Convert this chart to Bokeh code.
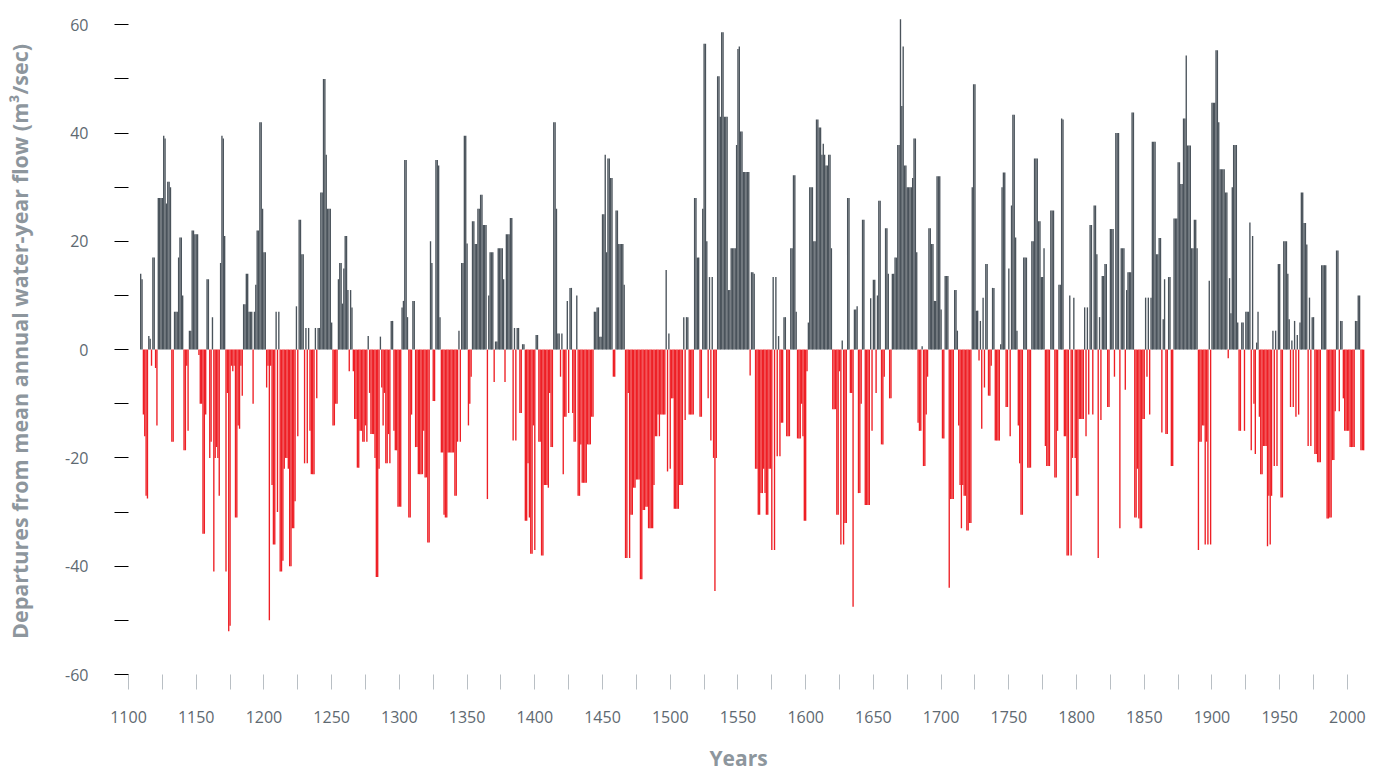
from bokeh.plotting import figure
from bokeh.models import FixedTicker, Range1d, ColumnDataSource, Title
from bokeh.embed import file_html
from bokeh.resources import INLINE

# Departures from mean annual water-year flow (m3/sec), one value per year
flow_1100s = [14,  # 1109
    13, -12, -16, -27, -27.5, 2.5, 2, -3, 17, 17,
    -3.4, -14, 28, 28, 28, 28, 39.5, 39, 27, 31,
    31, 30, -17, -17, 7, 7, 7, 17, 20.7, 20.7,
    10, -18.6, -18.6, -3, -15, 3.5, 3.5, 22, 22, 21.3,
    21.3, 21.3, -1, -10, -10, -34, -34, -12, 13, 13,
    -20, -17, 6, -41, -20, -18, -20, -27, 16, 39.5,
    39, 21, -41, -8, -52, -51, -3, -4, -3, -31,
    -31, -14, -14.6, -3, -8.5, 8.4, 8.4, 14, 14, 7,
    7, 7, -10, 7, 12, 22, 22, 42, 42, 26]
flow_1200s = [
    18, 18, -7, -3, -50, -3, -25, -36, -36, 7,
    -30, 7, -41, -41, -39, -22, -20, -20, -22, -40,
    -40, -33, -33, -28, 8, -16, 24, 24, 17.6, 17.6,
    -21, 4, -21, 4, -15, -23, -23, -23, 4, -9,
    4, 4, 29, 29, 50, 50, 36, 26, 26, 26,
    5, -14, -14, -10, -10, 13, 16, 16, 8.5, 15,
    21, 21, 11, -4, 11, 7.8, -4, -12.8, -12.8, -21.8,
    -21.8, -15, -15, -17, -17, -14, -17, 2.5, -8, -15.6,
    -15.6, -15.6, -20, -42, -42, -22, 2.4, -7, -14, -8,
    -21, -21, -15.6, -21, 5.3, 5.3, -15, -18.6, -18.6, -29]
flow_1300s = [
    -29, -29, 7.8, 9, 35, 35, 6, -31, -31, -12,
    9, 9, -18, -18, -23, -23, -23, -23, -15, -23.6,
    -23.6, -35.6, -35.6, 20, 16, -9.5, -9.5, 35, 35, 34,
    6, -19, -19, -30.5, -31, -31, -19, -19, -19, -19,
    -19, -27, -27, -17, 3.5, -17, 16, 16, 39.5, 39.5,
    19.6, -14, -10, -5, 23.7, 23.7, 19.5, 19.5, 26, 26,
    28.6, 28.6, 23, 23, 23, -27.6, 10, 18, 18, 18,
    -6, 1.5, 1.5, 18.7, 18.7, 18.7, 18.7, 13, -6, 21.3,
    21.3, 21.3, 24.3, 24.3, -16.8, 4, -16.8, 4, 4, -11.7,
    -11.7, 1, 1, -31.6, -31.6, -21, -31, -37.7, -37.7, -14]
flow_1400s = [
    -37, 2.7, 2.7, -17, -17, -38, -38, -25, -25, -25,
    -25.5, -8, -18, -18, 42, 42, 26, 3, 3, -5,
    3, -23, -12.4, -12.4, 9, -11.7, 11.4, 11.4, -11.7, -17,
    -17, 10, -27, -27, -17.5, -24.6, -24.6, -24.6, -24.6, -17.5,
    -17.5, -17.5, -12.4, -12.4, 7, 7, 7.8, 7.8, 2.4, 2.4,
    25, 25, 36, 18, 35.3, 35.3, 31.7, 31.7, -5, -5,
    25.7, 25.7, 19.5, 19.5, 19.5, 19.5, 12, -38.5, -38.5, -8,
    -38.5, -30.5, -30.5, -25.5, -25.5, -24, -24, -24, -42.4, -42.4,
    -29.6, -29.6, -29, -29, -33, -33, -33, -33, -25, -16,
    -16, -12, -16, -12, -12, -12, -12, 14.7, -22.5, 3]
flow_1500s = [
    -22, -9, -9, -29.4, -29.4, -29.4, -29.4, -25, -25, -25,
    6, -13, 6, 6, -12, -12, -12, -12, 28, 28,
    17, 17, -12.4, -12.4, 26, 56.5, 56.5, 20, -9, 13.4,
    -16.8, 13.4, -20, -44.6, -20, 50.5, 50.5, 43, 58.6, 58.6,
    43, 43, 43, 11, 11, 18.7, 18.7, 18.7, 18.7, 37.8,
    55.5, 56, 40.3, 40.3, 32.8, 32.8, 32.8, 32.8, 32.8, -4.8,
    14.3, 14.3, 14, -22, -22, -30.5, -30.5, -26.5, -26.5, -22,
    -26.5, -30.5, -30.5, -22, -22, -37, 13.4, -37, 13.4, -19.7,
    2.5, -19.7, -13.5, -13.5, 6, 6, -16, -16, -16, 18.7,
    18.7, 32.2, 32.2, 7, -16.4, -16.4, -16.4, -10, -16, -31.6]
flow_1600s = [
    -31.6, -4, 5, 30, 30, 30, 20, 20, 42.5, 42.5,
    41, 41, 36, 38, 36, 34, 34, 36, 36, 18.7,
    -11, -11, -11, -30.5, -30.5, -4, -36, 1.7, -36, -32,
    -32, 28, 28, -8, -8, -47.5, 7.4, 7.4, 8, -26.5,
    -26.5, -10, 24, 24, -28.7, -28.7, -28.7, -28.7, 9.5, -15,
    12.9, 12.9, -8, 10, 27.5, 27.5, -17.5, -17.5, -5, 22.4,
    22.4, 14, -9, -9, 14, 14, 17, 17, 37.8, 37.8,
    61, 45, 56, 34, 34, 30, 30, 30, 30, 31.7,
    39, 39, 18, -13.5, -15, -15, 0.6, -21.5, -21.5, -12,
    -5, 22.4, 22.4, 19.5, 19.5, 9, 9, 32, 32, 32]
flow_1700s = [
    7.4, -16.4, -16.4, 13.6, 13.6, 13.6, -44, -27.6, -27.6, -27.6,
    11, 11, 3.5, -14, -25, -33, -25, -27, -27, -33.4,
    -33.4, -32, -32, 30, 49, 49, 7.2, 7.2, -2, 5.3,
    -14.6, 9.6, -7, 15.8, 15.8, -8.5, -8.5, -3, 11.4, 11.4,
    -16.8, -16.8, -16.8, -16.8, 1, 30, 32.7, 32.7, -10.6, -10.6,
    15, -16, 26.6, 43.4, 43.4, 20.7, 3.5, -14, -21, -30.5,
    -30.5, 17, 17, 17, -21.8, -21.8, -21.8, 20, 20, 35.3,
    35.3, 35.3, 23.7, 23.7, 13.4, 13.4, 18.7, -17.8, -21.5, -21.5,
    -21.5, 25.7, 25.7, 25.7, -23.6, -23.6, -15, 12, 12, 42.7,
    42.5, -16, -16, -38, -38, 10, -38, -20, 9.6, -20]
flow_1800s = [
    -27, -27, -12.8, -12.8, -12.8, -12.8, 7.8, -16, 7.8, -12,
    23, 23, -12, 26.6, 26.6, 17.6, -38.5, 6, -13, 13.6,
    13.6, 15.8, 15.8, -10.6, -10.6, 22.3, 22.3, 22.3, -5, 40,
    40, 40, -33, 18.7, 18.7, 18.7, -7.4, 11, 14.3, 14.3,
    14.3, 43.8, 43.8, -31, -31, -22, -31.2, -33, -33, -12.8,
    -12.8, 9.6, -5, 9.6, -12, 9.6, 38.4, 38.4, 38.4, 17.6,
    17.6, 20.6, 20.6, -15.3, 5.6, 13, -15.6, -15.6, 13.4, 13.4,
    -21.5, -21.5, 24.2, 24.2, 24.2, 34.6, 34.6, 30.6, 30.6, 42.7,
    42.7, 54.3, 37.7, 37.7, 37.7, 18.7, 18.7, 24, 24, 18.7,
    -37, -17, -17, -14, -14, -36, -17, -36, 12.7, -36]
flow_1900s = [
    45.6, 45.6, 45.6, 55.3, 55.3, 42, 33.3, 33.3, 33.3, 33.3,
    29, 29, -1.6, 13.2, 6.7, 30, 37.8, 37.8, 37.8, 5,
    -15, -15, 5, 5, -15, 7, 7, 7, 23.5, -18.6,
    21, -10, -19.3, 1.3, 7, -12.4, -23, -23, -17.8, -17.8,
    -17.8, -36.3, -27, -36, -27, 3.5, -21.5, 3.5, -21.5, 15.8,
    15.8, -27.3, -27.3, 20, 20, 20, 14, 5.6, -10.6, 1.7,
    -10.6, 5.3, -12.4, 2.7, -12, 5, 29, 29, 23.4, 23.4,
    19.4, -17.8, 9.6, -17.8, 6, 6, -19.3, -19.3, -20.8, -20.8,
    -20.8, 15.6, 15.6, 15.6, 15.6, -31.2, -31.2, -31, -31, -20.4,
    -20.4, -11.4, 18.3, 18.3, -11.4, 5.3, 5.3, -9, -15, -15]
flow_2000s = [-15, -15, -18, -18, -18, -18, 5.3, 5.3, 10, 10, -18.6, -18.6, -18.6]

segment_starts = [1109, 1200, 1300, 1400, 1500, 1600, 1700, 1800, 1900, 2000]
segments = [flow_1100s, flow_1200s, flow_1300s, flow_1400s, flow_1500s,
            flow_1600s, flow_1700s, flow_1800s, flow_1900s, flow_2000s]

y_ticks = [-60, -40, -20, 0, 20, 40, 60]
y_minor = [-50, -30, -10, 10, 30, 50]
x_ticks = list(range(1100, 2001, 50))
x_minor = list(range(1125, 2000, 50))

x_title = "Years"
y_title = "Departures from mean annual water-year flow (m\u00b3/sec)"

POS = "#4a535b"
NEG = "#ee1f25"

years, vals, cols = [], [], []
for start, seg in zip(segment_starts, segments):
    for i, v in enumerate(seg):
        years.append(start + i)
        vals.append(v)
        cols.append(POS if v >= 0 else NEG)

src = ColumnDataSource(dict(year=years, value=vals, color=cols))

X0, X1 = 1100, 2020
Y0, Y1 = -60, 63
p = figure(frame_width=1246, frame_height=666,
           x_range=Range1d(X0, X1), y_range=Range1d(Y0, Y1),
           output_backend="svg", toolbar_location=None,
           min_border_left=128, min_border_top=8, min_border_right=0, min_border_bottom=99)
p.vbar(x="year", top="value", bottom=0, width=1.0, source=src,
       fill_color="color", line_color=None)

p.xgrid.visible = False
p.ygrid.visible = False
p.outline_line_color = None
p.background_fill_color = "white"
p.border_fill_color = "white"

tick_color = "#b9bfc4"
label_color = "#5e6971"
title_color = "#8d969d"

xa = p.xaxis[0]
xa.ticker = FixedTicker(ticks=x_ticks, minor_ticks=x_minor)
xa.axis_line_color = None
xa.major_tick_in = 0
xa.minor_tick_in = 0
xa.major_tick_out = 15
xa.minor_tick_out = 15
xa.major_tick_line_color = tick_color
xa.minor_tick_line_color = tick_color
xa.major_label_text_font = "Open Sans"
xa.major_label_text_font_size = "16px"
xa.major_label_text_color = label_color
xa.major_label_standoff = 21

ya = p.yaxis[0]
ya.ticker = FixedTicker(ticks=y_ticks, minor_ticks=y_minor)
ya.major_label_overrides = {t: str(t) for t in y_ticks}
ya.axis_line_color = None
ya.major_tick_in = 0
ya.minor_tick_in = 0
ya.major_tick_out = 14
ya.minor_tick_out = 14
ya.major_label_text_font = "Open Sans"
ya.major_label_text_font_size = "16px"
ya.major_label_text_color = label_color
ya.major_label_standoff = 26
ya.axis_label = y_title
ya.axis_label_text_font = "Open Sans"
ya.axis_label_text_font_style = "bold"
ya.axis_label_text_font_size = "21.5px"
ya.axis_label_text_color = title_color
ya.axis_label_standoff = 28

p.add_layout(Title(text=x_title, align="left", offset=581, standoff=32,
                   text_font="Open Sans", text_font_style="bold",
                   text_font_size="21px", text_color=title_color), "below")

open("out.html", "w").write(file_html(p, INLINE))
